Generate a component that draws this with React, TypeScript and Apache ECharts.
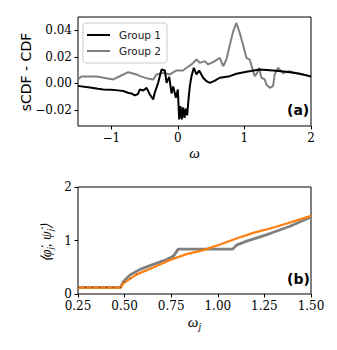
import React, { useEffect, useRef } from "react";
import * as echarts from "echarts";

// Panel (a)
const g1Omega = [-1.5,-1.48,-1.32,-1.2,-1.12,-1.0,-0.9,-0.82,-0.75,-0.7,-0.645,-0.6,-0.57,-0.52,-0.47,-0.42,-0.37,-0.35,-0.296,-0.245,-0.195,-0.17,-0.13,-0.095,-0.07,-0.03,0.0,0.02,0.04,0.06,0.08,0.1,0.12,0.14,0.16,0.18,0.205,0.24,0.28,0.32,0.38,0.43,0.48,0.55,0.63,0.78,0.88,1.03,1.23,1.43,1.63,1.83,1.98,2.0];
const g1Diff = [-0.002,-0.002,-0.003,-0.004,-0.0045,-0.0048,-0.0052,-0.0057,-0.007,-0.0075,-0.009,-0.008,-0.0045,-0.0053,-0.0033,-0.0083,-0.012,-0.0075,0.0005,0.0105,0.0098,0.0005,0.005,-0.0075,-0.0023,-0.0108,-0.0045,-0.027,-0.017,-0.027,-0.018,-0.0258,-0.019,-0.024,-0.012,-0.002,0.0055,0.0118,0.0068,0.0098,0.0043,0.0017,0.0005,0.002,0.0043,0.0055,0.0073,0.0088,0.0105,0.0098,0.0088,0.0073,0.0055,0.005];
const g2Omega = [-1.5,-1.45,-1.22,-0.97,-0.85,-0.745,-0.62,-0.57,-0.47,-0.37,-0.32,-0.22,-0.12,-0.02,0.08,0.13,0.205,0.28,0.33,0.405,0.455,0.53,0.63,0.68,0.73,0.78,0.83,0.88,0.93,0.98,1.03,1.08,1.13,1.155,1.19,1.22,1.255,1.305,1.33,1.38,1.43,1.455,1.505,1.58,1.68,1.78,1.88,1.98,2.0];
const g2Diff = [0.003,0.0053,0.0053,0.003,0.006,0.0085,0.0068,0.0055,0.004,0.003,0.0068,0.008,0.0068,0.0098,0.0098,0.0118,0.0143,0.018,0.0155,0.0168,0.0143,0.016,0.0193,0.013,0.018,0.029,0.039,0.0455,0.038,0.029,0.0193,0.018,0.0093,0.0055,0.0078,0.0118,0.0043,0.003,-0.0008,-0.0033,-0.002,0.0068,0.0118,0.0078,0.0093,0.0078,0.0068,0.0055,0.005];
const aXTicks = [-1, 0, 1, 2];
const aYTicks = [-0.02, 0, 0.02, 0.04];

// Panel (b)
const grayOmega = [0.25,0.479,0.493,0.529,0.583,0.654,0.726,0.762,0.788,1.08,1.1,1.155,1.28,1.387,1.5];
const grayRate = [0.125,0.125,0.23,0.354,0.46,0.553,0.646,0.708,0.838,0.838,0.913,0.988,1.13,1.267,1.44];
const orangeOmega = [0.25,0.48,0.493,0.565,0.654,0.744,0.833,0.922,1.012,1.1,1.19,1.28,1.37,1.5];
const orangeRate = [0.12,0.12,0.2,0.367,0.497,0.634,0.745,0.82,0.926,1.038,1.143,1.224,1.317,1.46];
const dottedCount = 4; // black dotted overlay visible on the first orange points

const zip = (xs: number[], ys: number[]) => xs.map((x, i) => [x, ys[i]]);
const SERIF = "DejaVu Serif";
const MATH = "Liberation Serif";
const SANS = "DejaVu Sans";
const fmtMinus = (v: number, d: number) => (v < 0 ? "\u2212" + Math.abs(v).toFixed(d) : v.toFixed(d));

export default function App() {
  const ref = useRef<HTMLDivElement>(null);
  useEffect(() => {
    if (!ref.current) return;
    const chart = echarts.init(ref.current, undefined, { renderer: "svg" });
    const labelStyle = { fontFamily: SERIF, fontSize: 12, color: "#000", fontWeight: "normal" };
    const line = { show: false, onZero: false };
    chart.setOption({
      animation: false,
      backgroundColor: "#fff",
      grid: [
        { left: 78, top: 17, width: 233, height: 109, show: true, borderColor: "#000", borderWidth: 1, backgroundColor: "transparent" },
        { left: 78, top: 187, width: 233, height: 107, show: true, borderColor: "#000", borderWidth: 1, backgroundColor: "transparent" },
      ],
      legend: {
        data: ["Group 1", "Group 2"],
        orient: "vertical",
        left: 83,
        top: 23,
        padding: [6, 6, 6, 4],
        icon: "rect",
        itemWidth: 23,
        itemHeight: 2,
        itemGap: 4,
        borderColor: "#ccc",
        borderWidth: 1,
        borderRadius: 3,
        backgroundColor: "rgba(255,255,255,0.85)",
        textStyle: { fontFamily: SANS, fontSize: 10.5, color: "#222", padding: [0, 0, 0, 4], lineHeight: 12 },
      },
      xAxis: [
        {
          type: "value", gridIndex: 0, min: -1.5, max: 2,
          axisLine: line,
          axisTick: { show: true, inside: false, length: 3.5, customValues: aXTicks, lineStyle: { color: "#000" } },
          axisLabel: { customValues: aXTicks, margin: 6, ...labelStyle, formatter: (v: number) => fmtMinus(v, 0) },
          splitLine: { show: false },
          name: "\u03c9", nameLocation: "middle", nameGap: 19,
          nameTextStyle: { fontFamily: MATH, fontStyle: "italic", fontSize: 15, color: "#000" },
        },
        {
          type: "value", gridIndex: 1, min: 0.25, max: 1.5, interval: 0.25,
          axisLine: line,
          axisTick: { show: true, inside: false, length: 3.5, lineStyle: { color: "#000" } },
          axisLabel: { margin: 6, ...labelStyle, formatter: (v: number) => v.toFixed(2) },
          splitLine: { show: false },
          name: "{m|\u03c9}{s|j}", nameLocation: "middle", nameGap: 19,
          nameTextStyle: {
            rich: {
              m: { fontFamily: MATH, fontStyle: "italic", fontSize: 15, color: "#000" },
              s: { fontFamily: MATH, fontStyle: "italic", fontSize: 10, color: "#000", padding: [8, 0, 0, 0] },
            },
          },
        },
      ],
      yAxis: [
        {
          type: "value", gridIndex: 0, min: -0.032, max: 0.05,
          axisLine: line,
          axisTick: { show: true, inside: false, length: 3.5, customValues: aYTicks, lineStyle: { color: "#000" } },
          axisLabel: { customValues: aYTicks, margin: 6, ...labelStyle, formatter: (v: number) => fmtMinus(v, 2) },
          splitLine: { show: false },
        },
        {
          type: "value", gridIndex: 1, min: 0, max: 2, interval: 1,
          axisLine: line,
          axisTick: { show: true, inside: false, length: 3.5, lineStyle: { color: "#000" } },
          axisLabel: { margin: 6, ...labelStyle, formatter: (v: number) => v.toFixed(0) },
          splitLine: { show: false },
        },
      ],
      series: [
        {
          name: "Group 2", type: "line", xAxisIndex: 0, yAxisIndex: 0, data: zip(g2Omega, g2Diff),
          symbol: "none", lineStyle: { color: "#808080", width: 2 }, itemStyle: { color: "#808080" }, z: 2,
        },
        {
          name: "Group 1", type: "line", xAxisIndex: 0, yAxisIndex: 0, data: zip(g1Omega, g1Diff),
          symbol: "none", lineStyle: { color: "#000", width: 2 }, itemStyle: { color: "#000" }, z: 3,
        },
        {
          name: "b-gray", type: "line", xAxisIndex: 1, yAxisIndex: 1, data: zip(grayOmega, grayRate),
          symbol: "none", lineStyle: { color: "#808080", width: 2.8 }, z: 2,
        },
        {
          name: "b-orange", type: "line", xAxisIndex: 1, yAxisIndex: 1, data: zip(orangeOmega, orangeRate),
          symbol: "none", lineStyle: { color: "#ff7f0e", width: 2.2 }, z: 3,
        },
        {
          name: "b-black", type: "line", xAxisIndex: 1, yAxisIndex: 1,
          data: zip(orangeOmega.slice(0, dottedCount), orangeRate.slice(0, dottedCount)),
          symbol: "none", lineStyle: { color: "#000", width: 1, type: [1, 6], opacity: 0.7 }, z: 4,
        },
      ],
      graphic: [
        {
          type: "text", x: 26, y: 72, rotation: Math.PI / 2,
          style: { text: "sCDF - CDF", fontFamily: SANS, fontSize: 14, fill: "#000", align: "center", verticalAlign: "middle" },
        },
        {
          type: "text", x: 46, y: 243, rotation: Math.PI / 2,
          style: {
            text: "{m|\u27e8\u03c6\u0307}{s|j}{m|, \u03c8\u0307}{s|j}{m|\u27e9}",
            align: "center", verticalAlign: "middle",
            rich: {
              m: { fontFamily: MATH, fontStyle: "italic", fontSize: 14, fill: "#000" },
              s: { fontFamily: MATH, fontStyle: "italic", fontSize: 9, fill: "#000", padding: [7, 0, 0, 0] },
            },
          },
        },
        { type: "text", left: 287, top: 103, style: { text: "(a)", fontFamily: SANS, fontWeight: "bold", fontSize: 14, fill: "#000" } },
        { type: "text", left: 287, top: 272, style: { text: "(b)", fontFamily: SANS, fontWeight: "bold", fontSize: 14, fill: "#000" } },
      ],
    });
    return () => chart.dispose();
  }, []);
  return <div ref={ref} style={{ position: "fixed", left: 0, top: 0, width: 337, height: 350 }} />;
}
